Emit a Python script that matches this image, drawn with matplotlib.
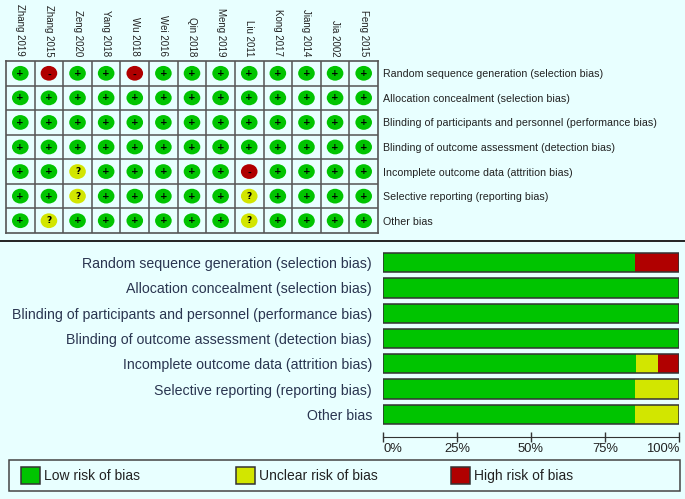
import matplotlib
matplotlib.use("Agg")
import matplotlib.pyplot as plt
from matplotlib.patches import Ellipse, Rectangle

plt.rcParams['font.family'] = ['Liberation Sans', 'DejaVu Sans']

W, H = 685, 499
BG = '#E8FFFF'
GREEN = '#00C400'
YELLOW = '#D2E600'
RED = '#B00000'
EDGE = '#333333'
TEXT = '#2A3550'

studies = ['Zhang 2019', 'Zhang 2015', 'Zeng 2020', 'Yang 2018', 'Wu 2018', 'Wei 2016', 'Qin 2018',
           'Meng 2019', 'Liu 2011', 'Kong 2017', 'Jiang 2014', 'Jia 2002', 'Feng 2015']
domains = ['Random sequence generation (selection bias)',
           'Allocation concealment (selection bias)',
           'Blinding of participants and personnel (performance bias)',
           'Blinding of outcome assessment (detection bias)',
           'Incomplete outcome data (attrition bias)',
           'Selective reporting (reporting bias)',
           'Other bias']

# one string per domain, one char per study
judgements = ['+-++-++++++++',
              '+++++++++++++',
              '+++++++++++++',
              '+++++++++++++',
              '++?+++++-++++',
              '++?+++++?++++',
              '+?++++++?++++']

low = [85, 100, 100, 100, 85.4, 85, 85]
unclear = [0, 0, 0, 0, 7.4, 15, 15]
high = [15, 0, 0, 0, 7.2, 0, 0]
pct_ticks = [0, 25, 50, 75, 100]
pct_labels = ['0%', '25%', '50%', '75%', '100%']
legend_names = ['Low risk of bias', 'Unclear risk of bias', 'High risk of bias']
legend_cols = [GREEN, YELLOW, RED]


def px_axes(fig, x0, y0, x1, y1):
    # axes from pixel box, y counted from the top
    return fig.add_axes([x0 / W, 1 - y1 / H, (x1 - x0) / W, (y1 - y0) / H])


fig = plt.figure(figsize=(W / 100, H / 100), dpi=100, facecolor=BG)

# risk of bias grid
ax = px_axes(fig, 6, 61, 378, 233)
ax.set_facecolor(BG)
ax.set_xlim(0, len(studies))
ax.set_ylim(len(domains), 0)
for i in range(1, len(studies)):
    ax.axvline(i, color='#555555', lw=1.1)
for i in range(1, len(domains)):
    ax.axhline(i, color='#555555', lw=1.1)
for s in ax.spines.values():
    s.set_color('#555555')
    s.set_linewidth(1.2)

colours = {'+': GREEN, '?': YELLOW, '-': RED}
for r, row in enumerate(judgements):
    for c, j in enumerate(row):
        ax.add_patch(Ellipse((c + 0.5, r + 0.5), 0.58, 0.6, fc=colours[j], ec='none', zorder=3))
        ax.text(c + 0.5, r + 0.5 if j != '-' else r + 0.58, j, ha='center', va='center', fontsize=6.5,
                fontweight='bold', family='DejaVu Sans', color='black', zorder=4)

ax.xaxis.tick_top()
ax.set_xticks([i + 0.5 for i in range(len(studies))])
ax.set_xticklabels(studies, rotation=-90, fontsize=7.0, color='#222222', ha='center', va='bottom')
ax.yaxis.tick_right()
ax.set_yticks([i + 0.5 for i in range(len(domains))])
ax.set_yticklabels(domains, fontsize=7.7, color='#222222')
ax.tick_params(axis='x', length=0, pad=3.5)
ax.tick_params(axis='y', length=0, pad=3.5)

# separator
fig.add_artist(plt.Line2D([0, 1], [1 - 241 / H, 1 - 241 / H], color='#222222', lw=1.4))

# summary bars
bx = px_axes(fig, 383, 250, 679, 427)
bx.set_facecolor(BG)
ypos = list(range(len(domains)))
left2 = [a + b for a, b in zip(low, unclear)]
bx.barh(ypos, low, 0.76, color=GREEN, edgecolor='none')
bx.barh(ypos, unclear, 0.76, left=low, color=YELLOW, edgecolor='none')
bx.barh(ypos, high, 0.76, left=left2, color=RED, edgecolor='none')
bx.barh(ypos, [100] * len(ypos), 0.76, fill=False, edgecolor=EDGE, lw=1.1)
bx.set_xlim(0, 100)
bx.set_ylim(len(domains) - 0.5, -0.5)
bx.set_yticks(ypos)
bx.set_yticklabels(domains, fontsize=10.2, color=TEXT)
bx.tick_params(axis='y', length=0, pad=8)
for s in bx.spines.values():
    s.set_visible(False)
bx.spines['bottom'].set_visible(True)
bx.spines['bottom'].set_position(('outward', 7.2))
bx.spines['bottom'].set_color('#333333')
bx.set_xticks(pct_ticks)
bx.set_xticklabels(pct_labels, fontsize=9.4, color='#222222')
bx.tick_params(axis='x', direction='inout', length=6.5, width=1, color='#333333', pad=1)
bx.get_xticklabels()[0].set_ha('left')
bx.get_xticklabels()[-1].set_ha('right')

# legend box, drawn in pixel coords
lg = fig.add_axes([0, 0, 1, 1], facecolor='none', zorder=5)
lg.set_xlim(0, W)
lg.set_ylim(H, 0)
lg.axis('off')
lg.add_patch(Rectangle((9, 460), 671, 31, fc='none', ec='#444444', lw=1.1))
for x, name, col in zip([21, 236, 451], legend_names, legend_cols):
    lg.add_patch(Rectangle((x, 467), 19, 17, fc=col, ec='#333333', lw=1.1))
    lg.text(x + 23, 476, name, fontsize=10, color='#222222', va='center', ha='left')

fig.savefig('out.png', dpi=100, facecolor=BG)
